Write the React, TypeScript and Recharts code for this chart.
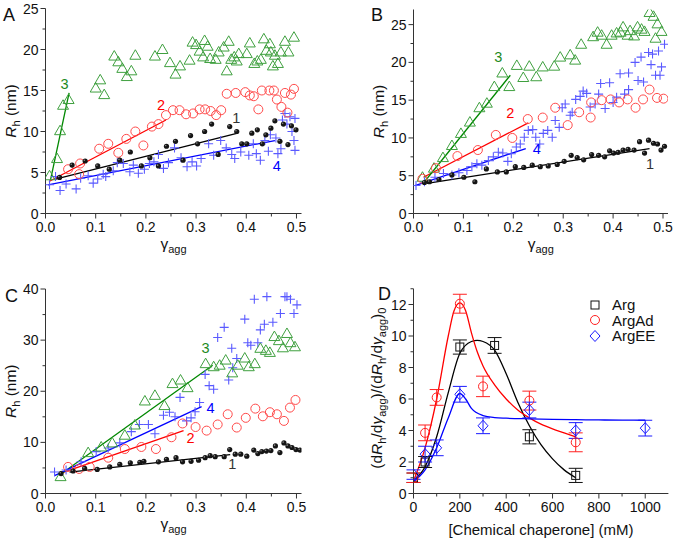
import React from 'react';
import { ComposedChart, Scatter, Line, XAxis, YAxis, ErrorBar, Legend } from 'recharts';

const FONT = 'Arial, "Liberation Sans", Helvetica, sans-serif';
const AXIS = '#333';

type Pt = [number, number];
type PtE = [number, number, number];
type Note = [number, number, string];

// ---------- panel A ----------
const A_DOTS: Pt[] = [
  [0.028, 4.4], [0.053, 5.9], [0.079, 6.4], [0.104, 5.8], [0.127, 5.4], [0.148, 6.5], [0.169, 7.5],
  [0.191, 5.8], [0.208, 6.8], [0.225, 5.8], [0.241, 8.2], [0.259, 8.8], [0.274, 6.5], [0.289, 9.5],
  [0.303, 8.5], [0.317, 10.0], [0.331, 10.9], [0.344, 7.2], [0.367, 10.6], [0.381, 10.0], [0.391, 8.5],
  [0.401, 8.5], [0.411, 9.8], [0.422, 10.2], [0.432, 8.5], [0.439, 9.6], [0.449, 10.4], [0.457, 11.3],
  [0.467, 8.8], [0.474, 10.9], [0.483, 8.4], [0.49, 10.7], [0.499, 10.2],
];
const A_CIRCLES: Pt[] = [
  [0.045, 5.4], [0.067, 4.8], [0.069, 6.1], [0.107, 7.9], [0.125, 8.5], [0.145, 7.4], [0.161, 9.1],
  [0.179, 10.0], [0.195, 8.3], [0.212, 10.6], [0.225, 10.9], [0.24, 12.0], [0.254, 12.6], [0.267, 12.6],
  [0.28, 12.1], [0.294, 12.2], [0.307, 12.7], [0.318, 12.7], [0.329, 12.5], [0.34, 12.0], [0.35, 12.6],
  [0.361, 14.6], [0.379, 14.7], [0.398, 14.8], [0.407, 14.4], [0.415, 14.3], [0.424, 12.7], [0.431, 15.0],
  [0.446, 15.0], [0.455, 15.0], [0.461, 13.9], [0.47, 13.0], [0.477, 14.7], [0.482, 12.3], [0.489, 14.5],
  [0.495, 15.2],
];
const A_TRIANGLES: Pt[] = [
  [0.008, 4.6], [0.023, 6.7], [0.029, 10.1], [0.035, 13.2], [0.046, 13.9], [0.1, 15.3], [0.109, 16.3],
  [0.117, 14.5], [0.137, 19.2], [0.145, 18.5], [0.153, 17.7], [0.162, 16.7], [0.171, 17.4], [0.179, 19.3],
  [0.218, 19.2], [0.233, 20.0], [0.248, 18.4], [0.259, 17.0], [0.268, 18.0], [0.287, 18.7], [0.293, 20.9],
  [0.3, 20.6], [0.307, 19.8], [0.314, 19.1], [0.317, 21.1], [0.323, 20.4], [0.328, 18.9], [0.339, 18.8],
  [0.345, 19.7], [0.355, 20.3], [0.361, 17.4], [0.365, 21.0], [0.37, 18.8], [0.376, 19.1], [0.381, 18.6],
  [0.385, 19.5], [0.401, 19.5], [0.407, 20.8], [0.416, 18.3], [0.422, 18.6], [0.429, 18.8], [0.435, 21.3],
  [0.44, 19.9], [0.447, 20.7], [0.449, 19.7], [0.453, 18.0], [0.457, 19.3], [0.463, 18.3], [0.469, 19.7],
  [0.477, 21.0], [0.484, 19.7], [0.495, 21.5],
];
const A_CROSSES: Pt[] = [
  [0.008, 3.5], [0.02, 4.5], [0.029, 2.8], [0.041, 3.6], [0.061, 3.0], [0.07, 4.3], [0.085, 4.6],
  [0.095, 3.7], [0.104, 4.2], [0.115, 4.8], [0.12, 4.5], [0.135, 5.2], [0.143, 6.2], [0.155, 6.1],
  [0.168, 5.1], [0.175, 5.9], [0.185, 4.9], [0.197, 5.4], [0.207, 6.1], [0.216, 6.3], [0.225, 7.2],
  [0.235, 5.5], [0.245, 6.2], [0.257, 8.0], [0.27, 6.8], [0.282, 5.7], [0.292, 6.3], [0.301, 5.8],
  [0.31, 6.7], [0.325, 8.5], [0.335, 7.1], [0.349, 8.9], [0.36, 8.0], [0.371, 7.2], [0.377, 6.7],
  [0.389, 7.5], [0.405, 7.1], [0.414, 8.5], [0.42, 7.3], [0.428, 6.5], [0.437, 8.9], [0.444, 7.6],
  [0.448, 9.6], [0.459, 9.2], [0.463, 7.3], [0.469, 7.9], [0.472, 11.4], [0.477, 12.2], [0.481, 10.9],
  [0.487, 11.8], [0.491, 10.0], [0.495, 8.9], [0.497, 11.6], [0.497, 7.7],
];
const A_FITS: Pt[][] = [
  [[0.02, 4.2], [0.383, 9.8]],
  [[0.007, 3.9], [0.24, 11.4]],
  [[0.01, 4.1], [0.047, 14.7]],
  [[0.005, 3.5], [0.457, 8.9]],
];
const A_NOTES: Note[] = [[0.038, 15.8, '3'], [0.23, 13.3, '2'], [0.38, 11.7, '1'], [0.461, 5.8, '4']];

// ---------- panel B ----------
const B_DOTS: Pt[] = [
  [0.022, 4.1], [0.032, 4.2], [0.051, 4.5], [0.077, 5.1], [0.101, 4.8], [0.123, 4.2], [0.146, 5.9],
  [0.168, 5.5], [0.186, 5.5], [0.204, 6.2], [0.221, 6.1], [0.238, 6.4], [0.254, 6.2], [0.27, 6.3],
  [0.288, 6.5], [0.302, 6.9], [0.316, 7.7], [0.328, 7.4], [0.341, 7.1], [0.357, 7.8], [0.371, 7.7],
  [0.383, 7.5], [0.393, 8.3], [0.401, 8.0], [0.41, 8.1], [0.42, 8.4], [0.43, 8.5], [0.442, 8.4],
  [0.453, 9.5], [0.463, 8.0], [0.471, 9.7], [0.481, 9.3], [0.489, 9.2], [0.496, 8.4], [0.503, 8.9],
];
const B_CIRCLES: Pt[] = [
  [0.018, 4.6], [0.045, 6.0], [0.088, 7.6], [0.129, 8.4], [0.165, 10.4], [0.198, 10.0], [0.229, 12.5],
  [0.259, 12.7], [0.284, 14.0], [0.309, 11.7], [0.332, 13.4], [0.355, 12.7], [0.356, 14.7], [0.377, 15.0],
  [0.395, 15.1], [0.412, 14.7], [0.429, 15.1], [0.445, 14.0], [0.46, 15.1], [0.473, 16.4], [0.488, 15.3],
  [0.501, 15.2],
];
const B_TRIANGLES: Pt[] = [
  [0.018, 4.8], [0.041, 6.0], [0.059, 7.4], [0.077, 9.0], [0.095, 10.6], [0.113, 12.1], [0.132, 14.0],
  [0.147, 14.6], [0.162, 16.8], [0.178, 18.6], [0.192, 16.8], [0.207, 19.6], [0.22, 18.0], [0.232, 19.5],
  [0.246, 18.1], [0.259, 19.4], [0.282, 19.5], [0.294, 20.7], [0.314, 21.0], [0.324, 20.3], [0.336, 22.4],
  [0.36, 23.4], [0.369, 24.0], [0.377, 23.6], [0.387, 22.4], [0.397, 23.6], [0.407, 23.9], [0.415, 24.0],
  [0.42, 24.7], [0.429, 23.6], [0.434, 24.2], [0.442, 23.5], [0.449, 24.7], [0.457, 24.4], [0.463, 24.1],
  [0.473, 26.6], [0.481, 26.1], [0.485, 23.2], [0.489, 25.1], [0.497, 24.1],
];
const B_CROSSES: Pt[] = [
  [0.005, 3.7], [0.022, 4.2], [0.043, 4.8], [0.06, 5.3], [0.077, 5.1], [0.091, 5.4], [0.107, 5.7],
  [0.117, 6.2], [0.127, 6.6], [0.137, 6.4], [0.15, 7.0], [0.16, 7.5], [0.17, 8.1], [0.179, 8.0],
  [0.189, 6.9], [0.196, 7.9], [0.206, 8.8], [0.214, 9.2], [0.222, 10.1], [0.23, 11.0], [0.239, 11.1],
  [0.245, 10.1], [0.253, 9.2], [0.26, 10.6], [0.269, 11.0], [0.278, 10.1], [0.284, 12.3], [0.292, 11.4],
  [0.298, 14.0], [0.304, 14.5], [0.314, 13.0], [0.318, 13.4], [0.325, 15.1], [0.334, 15.5], [0.34, 16.2],
  [0.347, 15.9], [0.354, 14.1], [0.364, 14.5], [0.371, 15.8], [0.375, 17.2], [0.384, 13.9], [0.393, 17.3],
  [0.4, 14.7], [0.407, 15.4], [0.414, 18.5], [0.423, 15.8], [0.431, 18.6], [0.431, 16.4], [0.444, 20.0],
  [0.45, 17.6], [0.456, 20.7], [0.461, 17.4], [0.471, 21.3], [0.476, 19.7], [0.479, 21.1], [0.485, 18.3],
  [0.491, 21.5], [0.494, 18.3], [0.497, 19.4], [0.503, 22.4],
];
const B_FITS: Pt[][] = [
  [[0.027, 4.0], [0.473, 8.6]],
  [[0.02, 4.8], [0.23, 12.0]],
  [[0.022, 4.2], [0.194, 18.3]],
  [[0.003, 3.7], [0.225, 8.6]],
];
const B_NOTES: Note[] = [[0.17, 20.7, '3'], [0.194, 13.3, '2'], [0.247, 8.5, '4'], [0.474, 6.6, '1']];

// ---------- panel C ----------
const C_DOTS: Pt[] = [
  [0.031, 3.9], [0.055, 4.4], [0.078, 4.9], [0.103, 4.7], [0.128, 5.2], [0.148, 5.7], [0.169, 6.0],
  [0.188, 6.1], [0.196, 6.3], [0.225, 6.2], [0.241, 6.7], [0.26, 7.0], [0.273, 6.2], [0.29, 6.3],
  [0.305, 6.5], [0.318, 7.0], [0.328, 7.4], [0.338, 7.2], [0.356, 7.2], [0.367, 8.6], [0.378, 7.7],
  [0.389, 7.7], [0.401, 7.3], [0.415, 8.5], [0.423, 7.8], [0.431, 8.2], [0.44, 8.3], [0.449, 8.4],
  [0.458, 9.3], [0.467, 8.0], [0.475, 9.9], [0.483, 9.3], [0.491, 9.0], [0.499, 8.6], [0.507, 8.5],
];
const C_CIRCLES: Pt[] = [
  [0.045, 5.2], [0.067, 4.8], [0.088, 5.2], [0.125, 7.0], [0.158, 8.7], [0.191, 9.1], [0.22, 8.7],
  [0.251, 11.0], [0.273, 13.7], [0.299, 13.0], [0.321, 12.3], [0.343, 13.5], [0.363, 15.5], [0.381, 12.9],
  [0.399, 14.8], [0.418, 16.6], [0.433, 15.1], [0.447, 15.9], [0.461, 15.5], [0.475, 14.2], [0.487, 16.8],
  [0.498, 18.3],
];
const C_TRIANGLES: Pt[] = [
  [0.03, 3.3], [0.085, 8.0], [0.111, 9.1], [0.133, 9.9], [0.158, 11.4], [0.178, 13.4], [0.198, 18.1],
  [0.218, 19.2], [0.237, 17.2], [0.253, 21.5], [0.269, 22.2], [0.283, 20.7], [0.319, 25.4], [0.335, 24.8],
  [0.347, 25.1], [0.359, 26.1], [0.372, 23.6], [0.383, 25.1], [0.397, 26.5], [0.405, 24.8], [0.417, 25.4],
  [0.428, 28.4], [0.439, 28.0], [0.447, 27.6], [0.456, 30.7], [0.465, 29.9], [0.473, 28.5], [0.481, 31.3],
  [0.488, 29.5], [0.497, 28.7],
];
const C_CROSSES: Pt[] = [
  [0.018, 4.2], [0.041, 4.6], [0.071, 6.2], [0.101, 8.2], [0.125, 8.9], [0.148, 9.9], [0.171, 12.1],
  [0.187, 13.5], [0.205, 13.5], [0.218, 11.7], [0.235, 15.3], [0.247, 15.9], [0.258, 15.0], [0.268, 18.8],
  [0.281, 14.2], [0.29, 14.8], [0.298, 16.0], [0.307, 17.8], [0.318, 23.3], [0.326, 21.1], [0.335, 20.4],
  [0.343, 30.5], [0.356, 32.5], [0.365, 22.2], [0.371, 28.4], [0.373, 24.6], [0.381, 26.4], [0.397, 34.1],
  [0.403, 29.5], [0.409, 29.0], [0.416, 38.0], [0.423, 29.5], [0.428, 32.0], [0.436, 33.1], [0.441, 38.5],
  [0.453, 33.5], [0.468, 35.2], [0.477, 38.5], [0.481, 38.5], [0.488, 38.0], [0.495, 35.2], [0.501, 36.9],
];
const C_FITS: Pt[][] = [
  [[0.048, 4.2], [0.368, 7.6]],
  [[0.028, 3.9], [0.275, 12.3]],
  [[0.028, 3.6], [0.333, 25.1]],
  [[0.018, 3.5], [0.311, 17.0]],
];
const C_NOTES: Note[] = [[0.319, 28.4, '3'], [0.329, 16.8, '4'], [0.289, 10.8, '2'], [0.372, 5.7, '1']];

// ---------- panel D ----------
const D_ARG: PtE[] = [[0, 1.0, 0.3], [50, 2.0, 0.35], [200, 9.3, 0.45], [350, 9.4, 0.5], [500, 3.6, 0.45], [700, 1.15, 0.45]];
const D_ARGAD: PtE[] = [[0, 1.0, 0.3], [50, 3.85, 0.5], [100, 6.1, 0.5], [200, 12.05, 0.6], [300, 6.8, 0.65], [500, 5.9, 0.6], [700, 3.25, 0.6]];
const D_ARGEE: PtE[] = [[0, 1.2, 0.3], [50, 2.5, 0.5], [100, 2.9, 0.5], [200, 6.3, 0.5], [300, 4.3, 0.5], [500, 5.3, 0.5], [700, 4.0, 0.5], [1000, 4.15, 0.5]];
const D_ARG_FIT: Pt[] = [
  [0, 0.8], [50, 1.7], [100, 3.6], [150, 6.4], [200, 8.9], [250, 9.65], [275, 9.72], [300, 9.65], [350, 9.1],
  [400, 7.6], [450, 5.8], [500, 4.3], [550, 3.1], [600, 2.2], [650, 1.5], [700, 1.0],
];
const D_ARGAD_FIT: Pt[] = [
  [0, 0.8], [50, 2.9], [100, 6.0], [150, 10.0], [175, 11.6], [200, 12.1], [225, 11.6], [250, 10.2], [275, 9.0],
  [300, 8.1], [350, 6.9], [400, 6.0], [450, 5.3], [500, 4.8], [550, 4.4], [600, 4.1], [650, 3.85], [700, 3.6],
];
const D_ARGEE_FIT: Pt[] = [
  [0, 0.75], [50, 1.5], [100, 2.9], [150, 4.8], [200, 6.35], [225, 6.0], [250, 5.4], [300, 4.95], [350, 4.82],
  [400, 4.78], [500, 4.74], [600, 4.71], [700, 4.69], [800, 4.67], [900, 4.66], [1000, 4.65],
];
const D_NAMES = ['Arg', 'ArgAd', 'ArgEE'];

// ---------- ticks ----------
const GAMMA_TICKS = [0, 0.05, 0.1, 0.15, 0.2, 0.25, 0.3, 0.35, 0.4, 0.45, 0.5];
const AB_Y_TICKS = [0, 2.5, 5, 7.5, 10, 12.5, 15, 17.5, 20, 22.5, 25];
const C_Y_TICKS = [0, 5, 10, 15, 20, 25, 30, 35, 40];
const D_X_TICKS = [0, 100, 200, 300, 400, 500, 600, 700, 800, 900, 1000];
const D_Y_TICKS = [0, 1, 2, 3, 4, 5, 6, 7, 8, 9, 10, 11, 12, 13];

const FIT_COLORS = ['#000000', '#ff0000', '#008800', '#0000ff'];
const NOTE_COLORS: Record<string, string> = { '1': '#333333', '2': '#ff0000', '3': '#1d8a1d', '4': '#0000ff' };

const X_AXIS_H = 40;
const Y_AXIS_W = 40;
const TICK_FONT = 14;

const pts = (a: Pt[]) => a.map(([x, y]) => ({ x, y }));

const makeXTick = (isMajor: (v: number) => boolean, fmt: (v: number) => string) => (p: any) => {
  const v = p.payload.value;
  const major = isMajor(v);
  return (
    <g>
      <line x1={p.x} x2={p.x} y1={p.y} y2={p.y + (major ? 5 : 3)} stroke={AXIS} />
      {major && (
        <text x={p.x} y={p.y + 18.5} textAnchor="middle" fontSize={TICK_FONT} fontFamily={FONT} fill="#111">
          {fmt(v)}
        </text>
      )}
    </g>
  );
};

const makeYTick = (isMajor: (v: number) => boolean) => (p: any) => {
  const v = p.payload.value;
  const major = isMajor(v);
  return (
    <g>
      <line x1={p.x - (major ? 5 : 3)} x2={p.x} y1={p.y} y2={p.y} stroke={AXIS} />
      {major && (
        <text x={p.x - 7} y={p.y + 5} textAnchor="end" fontSize={TICK_FONT} fontFamily={FONT} fill="#111">
          {v}
        </text>
      )}
    </g>
  );
};

const gammaMajor = (v: number) => Math.abs(v * 10 - Math.round(v * 10)) < 1e-6;

const GammaTitle = (p: any) => {
  const { x, y, width } = p.viewBox;
  return (
    <text x={x + width / 2} y={y + 35} textAnchor="middle" fontSize={15.5} fontFamily={FONT} fill="#111">
      <tspan>γ</tspan>
      <tspan fontSize={11} dy={4}>agg</tspan>
    </text>
  );
};

const RhTitle = (p: any) => {
  const { x, y, width, height } = p.viewBox;
  return (
    <text transform={`translate(${x + width - 30},${y + height / 2}) rotate(-90)`} textAnchor="middle" fontSize={15.5} fontFamily={FONT} fill="#111">
      <tspan fontStyle="italic">R</tspan>
      <tspan fontSize={11} dy={4}>h</tspan>
      <tspan dy={-4}> (nm)</tspan>
    </text>
  );
};

// markers
const dotShape = (p: any) => (
  <g>
    <circle cx={p.cx} cy={p.cy} r={2.6} fill="#151515" />
    <circle cx={p.cx - 0.8} cy={p.cy - 0.8} r={0.8} fill="#888" />
  </g>
);
const circleShape = (color: string, r: number) => (p: any) => (
  <circle cx={p.cx} cy={p.cy} r={r} fill="none" stroke={color} strokeWidth={1} />
);
const triShape = (p: any) => (
  <path d={`M${p.cx},${p.cy - 5.5} L${p.cx + 5.5},${p.cy + 4} L${p.cx - 5.5},${p.cy + 4} Z`} fill="none" stroke="#3fa03f" strokeWidth={1} />
);
const plusShape = (p: any) => (
  <path d={`M${p.cx - 4.5},${p.cy} H${p.cx + 4.5} M${p.cx},${p.cy - 4.5} V${p.cy + 4.5}`} stroke="#5a5aff" strokeWidth={1.1} />
);
const squareShape = (p: any) => (
  <rect x={p.cx - 4} y={p.cy - 4} width={8} height={8} fill="none" stroke="#111" strokeWidth={1} />
);
const diamondShape = (p: any) => (
  <path d={`M${p.cx},${p.cy - 5.5} L${p.cx + 5},${p.cy} L${p.cx},${p.cy + 5.5} L${p.cx - 5},${p.cy} Z`} fill="none" stroke="#1a1aff" strokeWidth={1} />
);
const noteShape = (p: any) => (
  <text x={p.cx} y={p.cy} dy="0.35em" textAnchor="middle" fontSize={14.5} fontFamily={FONT} fill={NOTE_COLORS[p.payload.t]}>
    {p.payload.t}
  </text>
);

interface GammaProps {
  left: number;
  top: number;
  width: number;
  height: number;
  margin: { top: number; right: number; bottom: number; left: number };
  yMax: number;
  yTicks: number[];
  yStep: number;
  dots: Pt[];
  circles: Pt[];
  triangles: Pt[];
  crosses: Pt[];
  fits: Pt[][];
  notes: Note[];
}

function GammaPanel(props: GammaProps) {
  const { left, top, width, height, margin, yMax, yTicks, yStep } = props;
  const m = { ...margin, left: margin.left - Y_AXIS_W, bottom: margin.bottom - X_AXIS_H };
  return (
    <div style={{ position: 'absolute', left, top, width, height }}>
      <ComposedChart width={width} height={height} margin={m}>
        <XAxis
          type="number"
          dataKey="x"
          domain={[0, 0.51]}
          ticks={GAMMA_TICKS}
          interval={0}
          height={X_AXIS_H}
          tickSize={0}
          tickMargin={0}
          axisLine={{ stroke: AXIS }}
          tickLine={false}
          tick={makeXTick(gammaMajor, (v) => v.toFixed(1))}
          label={GammaTitle}
          allowDataOverflow
        />
        <YAxis
          type="number"
          dataKey="y"
          domain={[0, yMax]}
          ticks={yTicks}
          interval={0}
          width={Y_AXIS_W}
          tickSize={0}
          tickMargin={0}
          axisLine={{ stroke: AXIS }}
          tickLine={false}
          tick={makeYTick((v) => v % yStep === 0)}
          label={RhTitle}
          allowDataOverflow
        />
        <Scatter data={pts(props.crosses)} shape={plusShape} isAnimationActive={false} />
        <Scatter data={pts(props.triangles)} shape={triShape} isAnimationActive={false} />
        <Scatter data={pts(props.circles)} shape={circleShape('#ff4a4a', 4.5)} isAnimationActive={false} />
        <Scatter data={pts(props.dots)} shape={dotShape} isAnimationActive={false} />
        {props.fits.map((f, i) => (
          <Line
            key={i}
            data={pts(f)}
            dataKey="y"
            type="linear"
            stroke={FIT_COLORS[i]}
            strokeWidth={1.3}
            dot={false}
            activeDot={false}
            isAnimationActive={false}
          />
        ))}
        <Scatter data={props.notes.map(([x, y, t]) => ({ x, y, t }))} shape={noteShape} isAnimationActive={false} />
      </ComposedChart>
    </div>
  );
}

const DXTitle = (p: any) => {
  const { x, y, width } = p.viewBox;
  return (
    <text x={x + width / 2} y={y + 41} textAnchor="middle" fontSize={15} fontFamily={FONT} fill="#111">
      [Chemical chaperone] (mM)
    </text>
  );
};

const DYTitle = (p: any) => {
  const { x, y, width, height } = p.viewBox;
  const sub = 11;
  return (
    <text transform={`translate(${x + width - 32},${y + height / 2 - 3}) rotate(-90)`} textAnchor="middle" fontSize={15.5} fontFamily={FONT} fill="#111">
      <tspan>(d</tspan>
      <tspan fontStyle="italic">R</tspan>
      <tspan fontSize={sub} dy={4}>h</tspan>
      <tspan dy={-4}>/d</tspan>
      <tspan fontStyle="italic">γ</tspan>
      <tspan fontSize={sub} dy={4}>agg</tspan>
      <tspan dy={-4}>)/(d</tspan>
      <tspan fontStyle="italic">R</tspan>
      <tspan fontSize={sub} dy={4}>h</tspan>
      <tspan dy={-4}>/d</tspan>
      <tspan fontStyle="italic">γ</tspan>
      <tspan fontSize={sub} dy={4}>agg</tspan>
      <tspan dy={-4}>)</tspan>
      <tspan fontSize={sub} dy={4}>0</tspan>
    </text>
  );
};

const D_MARKERS = [
  (cx: number, cy: number) => <rect x={cx - 4} y={cy - 4} width={8} height={8} fill="none" stroke="#111" />,
  (cx: number, cy: number) => <circle cx={cx} cy={cy} r={4.5} fill="none" stroke="#ff2020" />,
  (cx: number, cy: number) => <path d={`M${cx},${cy - 5.5} L${cx + 5},${cy} L${cx},${cy + 5.5} L${cx - 5},${cy} Z`} fill="none" stroke="#1a1aff" />,
];

const DLegend = () => (
  <div style={{ fontFamily: FONT, fontSize: 15, color: '#111' }}>
    {D_NAMES.map((n, i) => (
      <div key={n} style={{ display: 'flex', alignItems: 'center', height: 15.5 }}>
        <svg width={12} height={12} style={{ overflow: 'visible' }}>
          {D_MARKERS[i](6, 6)}
        </svg>
        <span style={{ marginLeft: 11, lineHeight: '15.5px' }}>{n}</span>
      </div>
    ))}
  </div>
);

function PanelD() {
  const e = (a: PtE[]) => a.map(([x, y, err]) => ({ x, y, err }));
  return (
    <div style={{ position: 'absolute', left: 337, top: 265, width: 338, height: 276 }}>
      <ComposedChart
        width={338}
        height={276}
        margin={{ top: 23.75, right: 6.6, bottom: 47.5 - X_AXIS_H, left: 76.5 - Y_AXIS_W }}
      >
        <XAxis
          type="number"
          dataKey="x"
          domain={[0, 1100]}
          ticks={D_X_TICKS}
          interval={0}
          height={X_AXIS_H}
          tickSize={0}
          tickMargin={0}
          axisLine={{ stroke: AXIS }}
          tickLine={false}
          tick={makeXTick((v) => v % 200 === 0, (v) => String(v))}
          label={DXTitle}
          allowDataOverflow
        />
        <YAxis
          type="number"
          dataKey="y"
          domain={[0, 13]}
          ticks={D_Y_TICKS}
          interval={0}
          width={Y_AXIS_W}
          tickSize={0}
          tickMargin={0}
          axisLine={{ stroke: AXIS }}
          tickLine={false}
          tick={makeYTick((v) => v % 2 === 0)}
          label={DYTitle}
          allowDataOverflow
        />
        <Legend
          layout="vertical"
          align="center"
          verticalAlign="middle"
          content={DLegend}
          wrapperStyle={{ left: 252, top: 32, width: 80 }}
        />
        <Line data={pts(D_ARG_FIT)} dataKey="y" type="monotone" stroke="#000" strokeWidth={1.3} dot={false} activeDot={false} isAnimationActive={false} />
        <Line data={pts(D_ARGAD_FIT)} dataKey="y" type="monotone" stroke="#ff0000" strokeWidth={1.3} dot={false} activeDot={false} isAnimationActive={false} />
        <Line data={pts(D_ARGEE_FIT)} dataKey="y" type="monotone" stroke="#0000ff" strokeWidth={1.3} dot={false} activeDot={false} isAnimationActive={false} />
        <Scatter name="Arg" data={e(D_ARG)} shape={squareShape} isAnimationActive={false}>
          <ErrorBar dataKey="err" direction="y" width={7} stroke="#111" strokeWidth={1} />
        </Scatter>
        <Scatter name="ArgAd" data={e(D_ARGAD)} shape={circleShape('#ff2020', 4.5)} isAnimationActive={false}>
          <ErrorBar dataKey="err" direction="y" width={7} stroke="#ff2020" strokeWidth={1} />
        </Scatter>
        <Scatter name="ArgEE" data={e(D_ARGEE)} shape={diamondShape} isAnimationActive={false}>
          <ErrorBar dataKey="err" direction="y" width={7} stroke="#1a1aff" strokeWidth={1} />
        </Scatter>
      </ComposedChart>
    </div>
  );
}

export default function App() {
  return (
    <div style={{ position: 'absolute', left: 0, top: 0, width: 675, height: 541, background: '#fff', fontFamily: FONT }}>
      <GammaPanel
        left={0} top={0} width={337} height={265}
        margin={{ top: 8.5, right: 35.5, bottom: 51.5, left: 45.5 }}
        yMax={25} yTicks={AB_Y_TICKS} yStep={5}
        dots={A_DOTS} circles={A_CIRCLES} triangles={A_TRIANGLES} crosses={A_CROSSES}
        fits={A_FITS} notes={A_NOTES}
      />
      <GammaPanel
        left={337} top={0} width={338} height={265}
        margin={{ top: 9.5, right: 7, bottom: 51.5, left: 76.5 }}
        yMax={27} yTicks={AB_Y_TICKS} yStep={5}
        dots={B_DOTS} circles={B_CIRCLES} triangles={B_TRIANGLES} crosses={B_CROSSES}
        fits={B_FITS} notes={B_NOTES}
      />
      <GammaPanel
        left={0} top={265} width={337} height={276}
        margin={{ top: 24, right: 35.5, bottom: 47.5, left: 45.5 }}
        yMax={40} yTicks={C_Y_TICKS} yStep={10}
        dots={C_DOTS} circles={C_CIRCLES} triangles={C_TRIANGLES} crosses={C_CROSSES}
        fits={C_FITS} notes={C_NOTES}
      />
      <PanelD />
      <svg width={675} height={541} style={{ position: 'absolute', left: 0, top: 0, pointerEvents: 'none' }}>
        <text x={3} y={21} fontSize={18} fontFamily={FONT} fill="#111">A</text>
        <text x={371} y={21} fontSize={18} fontFamily={FONT} fill="#111">B</text>
        <text x={5} y={302} fontSize={18} fontFamily={FONT} fill="#111">C</text>
        <text x={378} y={300} fontSize={18} fontFamily={FONT} fill="#111">D</text>
      </svg>
    </div>
  );
}
